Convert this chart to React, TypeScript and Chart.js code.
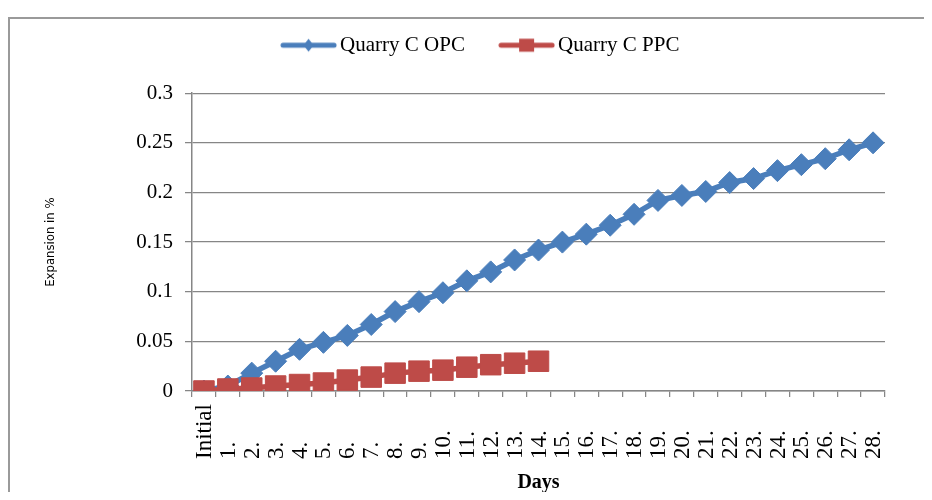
import React, { useEffect, useRef } from 'react';
import { Chart, registerables, layouts } from 'chart.js';

Chart.register(...registerables);

// ---- Data ----
const days = [
  'Initial', '1.', '2.', '3.', '4.', '5.', '6.', '7.', '8.', '9.', '10.',
  '11.', '12.', '13.', '14.', '15.', '16.', '17.', '18.', '19.', '20.',
  '21.', '22.', '23.', '24.', '25.', '26.', '27.', '28.',
];
const opcName = 'Quarry C OPC';
const ppcName = 'Quarry C PPC';
const opcValues = [
  0.0, 0.005, 0.018, 0.03, 0.042, 0.049, 0.056, 0.067, 0.08, 0.09, 0.099,
  0.111, 0.12, 0.132, 0.142, 0.15, 0.158, 0.167, 0.178, 0.192, 0.197,
  0.201, 0.21, 0.214, 0.222, 0.228, 0.234, 0.243, 0.25,
];
const ppcValues = [
  0.0, 0.002, 0.003, 0.005, 0.0065, 0.008, 0.011, 0.014, 0.018, 0.02, 0.021,
  0.024, 0.0265, 0.028, 0.03,
];
const yTicks = [0, 0.05, 0.1, 0.15, 0.2, 0.25, 0.3];
const xTitle = 'Days';
const yTitle = 'Expansion in %';

// ---- Styles ----
const BLUE = '#4a7ebb';
const RED = '#be4b48';
const GRID = '#868686';
const SERIF = '"Liberation Serif", "Times New Roman", serif';
const NARROW = '"Liberation Sans Narrow", "DejaVu Sans Condensed", "Arial Narrow", sans-serif';

function makeSwatch(color: string, kind: 'diamond' | 'square'): HTMLCanvasElement {
  const c = document.createElement('canvas');
  c.width = 57;
  c.height = 16;
  const g = c.getContext('2d')!;
  g.strokeStyle = color;
  g.lineWidth = 5;
  g.lineCap = 'round';
  g.beginPath();
  g.moveTo(3, 8);
  g.lineTo(54, 8);
  g.stroke();
  g.fillStyle = color;
  if (kind === 'diamond') {
    g.beginPath();
    g.moveTo(28.5, 1.5);
    g.lineTo(33.5, 8);
    g.lineTo(28.5, 14.5);
    g.lineTo(23.5, 8);
    g.closePath();
    g.fill();
  } else {
    g.fillRect(21, 1.5, 15, 13);
  }
  return c;
}

const xLabelPlugin = {
  id: 'xLabelsBottomAligned',
  afterDraw(chart: any) {
    const { ctx } = chart;
    const xs = chart.scales.x;
    ctx.save();
    ctx.font = `23px ${SERIF}`;
    ctx.fillStyle = '#000';
    ctx.textAlign = 'left';
    ctx.textBaseline = 'middle';
    days.forEach((lab, i) => {
      const x = xs.getPixelForValue(i);
      ctx.save();
      ctx.translate(x + 1, xs.top + 68);
      ctx.rotate(-Math.PI / 2);
      ctx.fillText(lab, 0, 0);
      ctx.restore();
    });
    ctx.restore();
  },
};

const legendGapPlugin = {
  id: 'legendGap',
  beforeInit(chart: any) {
    const box: any = {
      position: 'top',
      weight: 500,
      fullSize: true,
      options: {},
      left: 0, top: 0, right: 0, bottom: 0, width: 0, height: 0,
      isHorizontal: () => true,
      update(maxWidth: number) {
        box.width = maxWidth;
        box.height = 27.5;
      },
      draw() {},
    };
    layouts.addBox(chart, box);
  },
};

export default function App() {
  const ref = useRef<HTMLCanvasElement>(null);

  useEffect(() => {
    const canvas = ref.current!;
    const opcSwatch = makeSwatch(BLUE, 'diamond');
    const ppcSwatch = makeSwatch(RED, 'square');

    const chart = new Chart(canvas, {
      type: 'line',
      data: {
        labels: days,
        datasets: [
          {
            label: opcName,
            data: opcValues,
            borderColor: BLUE,
            backgroundColor: BLUE,
            borderWidth: 5.5,
            pointStyle: 'rectRot',
            pointRadius: 11,
            pointBorderWidth: 1,
            pointBackgroundColor: BLUE,
            pointBorderColor: BLUE,
            tension: 0,
            order: 1,
          },
          {
            label: ppcName,
            data: ppcValues,
            borderColor: RED,
            backgroundColor: RED,
            borderWidth: 5.5,
            pointStyle: 'rect',
            pointRadius: 14.5,
            pointBorderWidth: 1,
            pointBackgroundColor: RED,
            pointBorderColor: RED,
            tension: 0,
            order: 0,
          },
        ],
      },
      options: {
        responsive: false,
        animation: false,
        events: [],
        layout: { padding: { top: -6, left: 82, right: 47, bottom: 0 } },
        plugins: {
          tooltip: { enabled: false },
          title: { display: false },
          legend: {
            display: true,
            position: 'top',
            labels: {
              usePointStyle: true,
              pointStyleWidth: 42,
              padding: 40.7,
              color: '#000',
              font: { family: SERIF, size: 21 },
              generateLabels: () => [
                { text: opcName, pointStyle: opcSwatch, fillStyle: BLUE, strokeStyle: BLUE, lineWidth: 0, hidden: false, datasetIndex: 0, fontColor: '#000' },
                { text: ppcName, pointStyle: ppcSwatch, fillStyle: RED, strokeStyle: RED, lineWidth: 0, hidden: false, datasetIndex: 1, fontColor: '#000' },
              ] as any,
            },
          },
        },
        scales: {
          x: {
            type: 'category',
            offset: true,
            afterFit: (s: any) => {
              s.height = 109;
              s.paddingLeft = 0;
              s.paddingRight = 0;
            },
            grid: {
              offset: true,
              drawOnChartArea: false,
              drawTicks: true,
              tickLength: 6,
              color: GRID,
              lineWidth: 1.25,
            },
            border: { display: true, color: GRID, width: 1.5 },
            ticks: { display: false, autoSkip: false },
            title: {
              display: true,
              text: xTitle,
              color: '#000',
              font: { family: SERIF, size: 20, weight: 'bold' },
              padding: { top: 0, bottom: 5 },
            },
          },
          y: {
            min: 0,
            max: 0.3,
            afterFit: (s: any) => {
              s.width = 110;
            },
            afterBuildTicks: (s: any) => {
              s.ticks = yTicks.map((v) => ({ value: v }));
            },
            grid: {
              color: GRID,
              lineWidth: 1.25,
              drawTicks: true,
              tickLength: 7,
            },
            border: { display: true, color: GRID, width: 1.5 },
            ticks: {
              color: '#000',
              font: { family: SERIF, size: 21 },
              padding: 12,
              callback: (v: any) => String(v),
            },
            title: {
              display: true,
              text: yTitle,
              color: '#000',
              font: { family: NARROW, size: 13 },
              padding: { top: -39, bottom: 0 },
            },
          },
        },
      },
      plugins: [xLabelPlugin, legendGapPlugin],
    } as any);

    return () => chart.destroy();
  }, []);

  return (
    <div
      style={{
        position: 'relative',
        margin: -8,
        width: 932,
        height: 500,
        overflow: 'hidden',
        background: '#fff',
      }}
    >
      <div
        style={{
          position: 'absolute',
          left: 8,
          top: 17,
          width: 2000,
          height: 2000,
          borderLeft: '2px solid #9a9a9a',
          borderTop: '2px solid #9a9a9a',
        }}
      />
      <canvas
        ref={ref}
        width={932}
        height={500}
        style={{ position: 'absolute', left: 0, top: 0 }}
      />
    </div>
  );
}
